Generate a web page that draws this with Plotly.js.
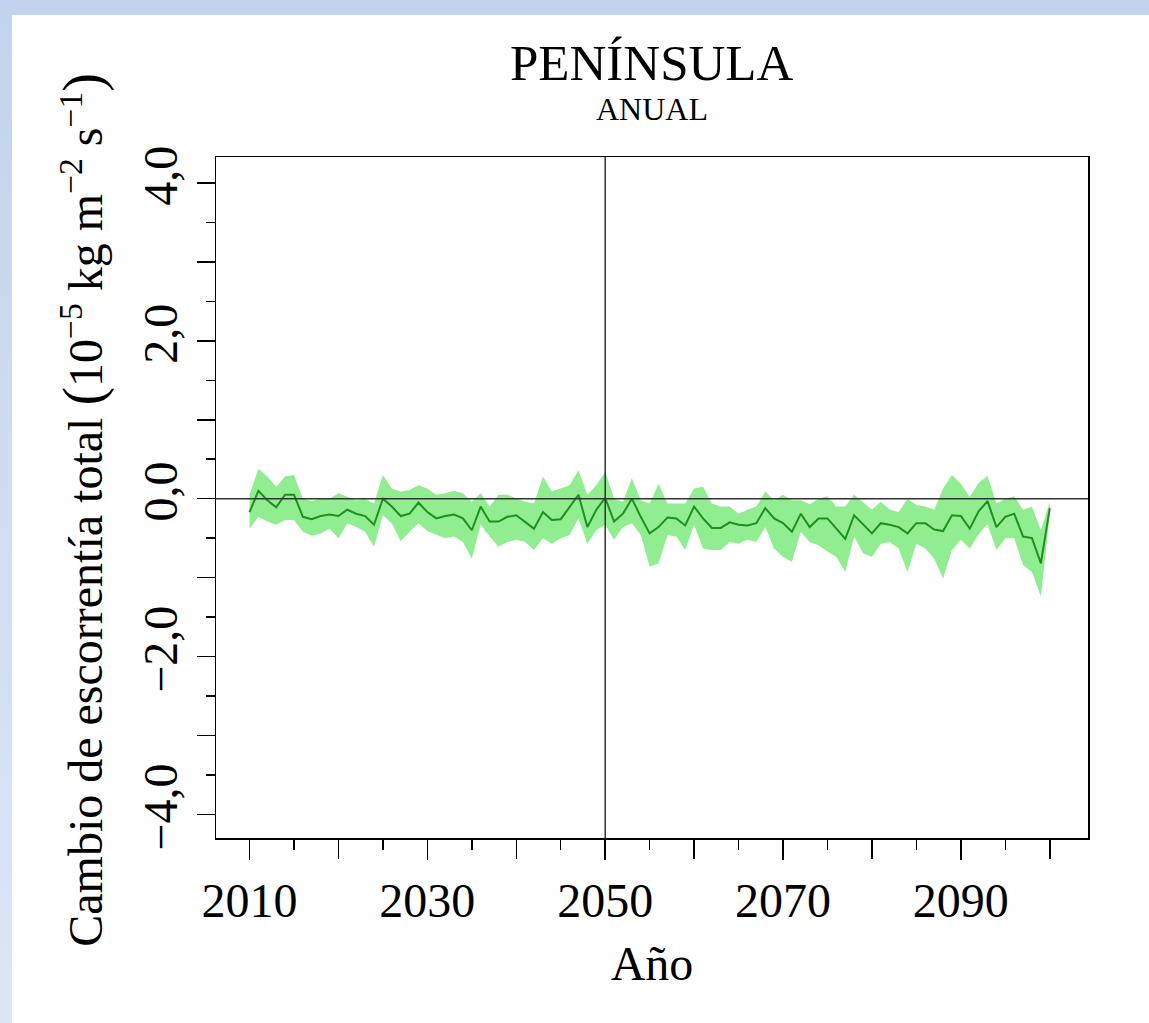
<!DOCTYPE html>
<html>
<head>
<meta charset="utf-8">
<script src="https://cdn.plot.ly/plotly-3.0.1.min.js"></script>
<style>
  html, body { margin: 0; padding: 0; width: 1149px; height: 1023px; overflow: hidden;
    background: linear-gradient(180deg, #c3d3ed 0%, #dde6f4 100%); }
  #wrap { position: absolute; left: 12px; top: 15px; width: 1137px; height: 1008px; background: #ffffff; }
  #chart { width: 1137px; height: 1008px; }
</style>
</head>
<body>
<div id="wrap"><div id="chart"></div></div>
<script>
const years = [];
for (let y = 2010; y <= 2100; y++) years.push(y);

const meanValues = [
  -0.17, 0.10, -0.02, -0.11, 0.05, 0.05, -0.23, -0.26, -0.22, -0.20,
  -0.22, -0.14, -0.19, -0.22, -0.33, 0.00, -0.10, -0.22, -0.19, -0.05,
  -0.17, -0.25, -0.22, -0.20, -0.25, -0.40, -0.10, -0.29, -0.29, -0.23,
  -0.21, -0.29, -0.38, -0.17, -0.27, -0.26, -0.10, 0.05, -0.36, -0.14,
  0.01, -0.29, -0.19, 0.00, -0.23, -0.44, -0.36, -0.24, -0.25, -0.34,
  -0.10, -0.25, -0.37, -0.37, -0.30, -0.33, -0.34, -0.31, -0.12, -0.25,
  -0.31, -0.42, -0.19, -0.36, -0.25, -0.25, -0.38, -0.51, -0.21, -0.33,
  -0.44, -0.31, -0.33, -0.36, -0.44, -0.31, -0.31, -0.39, -0.41, -0.21,
  -0.22, -0.38, -0.16, -0.03, -0.36, -0.23, -0.19, -0.48, -0.50, -0.82,
  -0.12
];

const upperValues = [
  0.05, 0.38, 0.28, 0.15, 0.28, 0.30, 0.00, -0.03, 0.00, 0.00,
  0.07, 0.03, -0.02, 0.00, -0.06, 0.30, 0.13, 0.09, 0.11, 0.17,
  0.13, 0.05, 0.07, 0.10, 0.07, -0.04, 0.07, -0.10, 0.05, 0.05,
  0.00, -0.04, -0.06, 0.28, 0.09, 0.13, 0.17, 0.36, 0.05, 0.17,
  0.34, 0.00, -0.04, 0.26, -0.02, -0.06, 0.19, -0.06, -0.06, -0.06,
  0.13, 0.15, -0.06, -0.10, -0.10, -0.19, -0.14, -0.10, 0.09, -0.02,
  0.05, -0.02, -0.02, -0.07, 0.00, 0.03, -0.10, -0.10, 0.05, -0.04,
  -0.14, -0.04, -0.14, -0.17, 0.00, -0.08, -0.10, -0.14, 0.13, 0.30,
  0.19, 0.02, 0.20, 0.29, -0.06, 0.00, 0.03, -0.14, -0.10, -0.40,
  -0.04
];

const lowerValues = [
  -0.38, -0.23, -0.29, -0.33, -0.27, -0.27, -0.42, -0.47, -0.44, -0.38,
  -0.50, -0.31, -0.36, -0.42, -0.61, -0.21, -0.31, -0.54, -0.42, -0.31,
  -0.41, -0.46, -0.50, -0.48, -0.55, -0.76, -0.33, -0.48, -0.61, -0.55,
  -0.52, -0.55, -0.65, -0.50, -0.57, -0.50, -0.46, -0.25, -0.57, -0.40,
  -0.33, -0.52, -0.36, -0.31, -0.46, -0.86, -0.82, -0.46, -0.48, -0.65,
  -0.33, -0.63, -0.65, -0.65, -0.55, -0.57, -0.52, -0.55, -0.36, -0.63,
  -0.74, -0.80, -0.42, -0.55, -0.59, -0.67, -0.74, -0.93, -0.48, -0.69,
  -0.74, -0.57, -0.55, -0.63, -0.93, -0.57, -0.63, -0.76, -1.01, -0.65,
  -0.52, -0.63, -0.45, -0.32, -0.65, -0.50, -0.50, -0.84, -0.93, -1.24,
  -0.20
];

// labelled major ticks
const xLabelVals = [2010, 2030, 2050, 2070, 2090];
const xLabelText = ['2010', '2030', '2050', '2070', '2090'];
// unlabelled long ticks
const xPlainVals = [2020, 2040, 2060, 2080, 2100];
const yLabelVals = [-4, -2, 0, 2, 4];
const yLabelText = ['\u22124,0', '\u22122,0', '0,0', '2,0', '4,0'];
const yPlainVals = [-3, -1, 1, 3];

const xRange = [2006.23, 2104.3];
const yRange = [-4.30, 4.33];

const FONT = 'Liberation Serif, Times New Roman, serif';

const traces = [
  { x: years, y: upperValues, type: 'scatter', mode: 'lines',
    line: { width: 0, color: 'rgba(0,0,0,0)' }, hoverinfo: 'skip', showlegend: false },
  { x: years, y: lowerValues, type: 'scatter', mode: 'lines', fill: 'tonexty',
    fillcolor: '#90ee90', line: { width: 0, color: 'rgba(0,0,0,0)' }, hoverinfo: 'skip', showlegend: false },
  { x: years, y: meanValues, type: 'scatter', mode: 'lines',
    line: { width: 2, color: '#1f8f1f' }, showlegend: false },
  // invisible helper trace so the tick-only overlay axes are drawn
  { x: [years[0]], y: [meanValues[0]], xaxis: 'x2', yaxis: 'y2', type: 'scatter', mode: 'markers',
    marker: { opacity: 0, size: 1 }, hoverinfo: 'skip', showlegend: false }
];

const tickCommon = { ticks: 'outside', tickwidth: 1.5, tickcolor: '#000', showgrid: false, zeroline: false };

const layout = {
  width: 1137, height: 1008,
  margin: { l: 204, r: 61, t: 142, b: 185 },
  paper_bgcolor: '#ffffff', plot_bgcolor: '#ffffff',
  font: { family: FONT, color: '#000000', size: 48 },
  xaxis: Object.assign({}, tickCommon, {
    range: xRange,
    showline: true, linecolor: '#000', linewidth: 1.5, mirror: true,
    tickmode: 'array', tickvals: xLabelVals, ticktext: xLabelText, ticklen: 20,
    tickfont: { family: FONT, size: 48 },
    minor: { tickmode: 'linear', tick0: 2010, dtick: 5, ticks: 'outside', ticklen: 10, tickwidth: 1.5, tickcolor: '#000', showgrid: false },
    title: { text: 'Año', font: { family: FONT, size: 48 }, standoff: 20 }
  }),
  yaxis: Object.assign({}, tickCommon, {
    range: yRange,
    showline: true, linecolor: '#000', linewidth: 1.5, mirror: true,
    tickmode: 'array', tickvals: yLabelVals, ticktext: yLabelText, ticklen: 18,
    tickangle: -90,
    tickfont: { family: FONT, size: 48 },
    minor: { tickmode: 'linear', tick0: 0, dtick: 0.5, ticks: 'outside', ticklen: 9, tickwidth: 1.5, tickcolor: '#000', showgrid: false }
  }),
  xaxis2: Object.assign({}, tickCommon, {
    range: xRange, overlaying: 'x', anchor: 'y2', side: 'bottom',
    showline: false, tickmode: 'array', tickvals: xPlainVals, ticklen: 20, showticklabels: false
  }),
  yaxis2: Object.assign({}, tickCommon, {
    range: yRange, overlaying: 'y', anchor: 'x2', side: 'left',
    showline: false, tickmode: 'array', tickvals: yPlainVals, ticklen: 18, showticklabels: false
  }),
  shapes: [
    { type: 'line', xref: 'x', yref: 'paper', x0: 2050, x1: 2050, y0: 0, y1: 1,
      line: { color: '#333', width: 1.5 }, layer: 'above' },
    { type: 'line', xref: 'paper', yref: 'y', x0: 0, x1: 1, y0: 0, y1: 0,
      line: { color: '#333', width: 1.5 }, layer: 'above' }
  ],
  annotations: [
    { text: 'PENÍNSULA', xref: 'paper', yref: 'paper', x: 0.5, y: 1, yshift: 64,
      xanchor: 'center', yanchor: 'bottom', showarrow: false,
      font: { family: FONT, size: 51 } },
    { text: 'ANUAL', xref: 'paper', yref: 'paper', x: 0.5, y: 1, yshift: 28,
      xanchor: 'center', yanchor: 'bottom', showarrow: false,
      font: { family: FONT, size: 32 } },
    { text: 'Cambio de escorrentía total <span style="font-size:56px">(</span>10<sup>\u22125</sup> kg m<sup>\u22122</sup> s<sup>\u22121</sup><span style="font-size:56px">)</span>',
      xref: 'paper', yref: 'paper', x: (72 - 204) / 872, y: 0.482, textangle: -90,
      xanchor: 'center', yanchor: 'middle', showarrow: false,
      font: { family: FONT, size: 48 } }
  ]
};

Plotly.newPlot('chart', traces, layout, { displayModeBar: false, staticPlot: true });
</script>
</body>
</html>
